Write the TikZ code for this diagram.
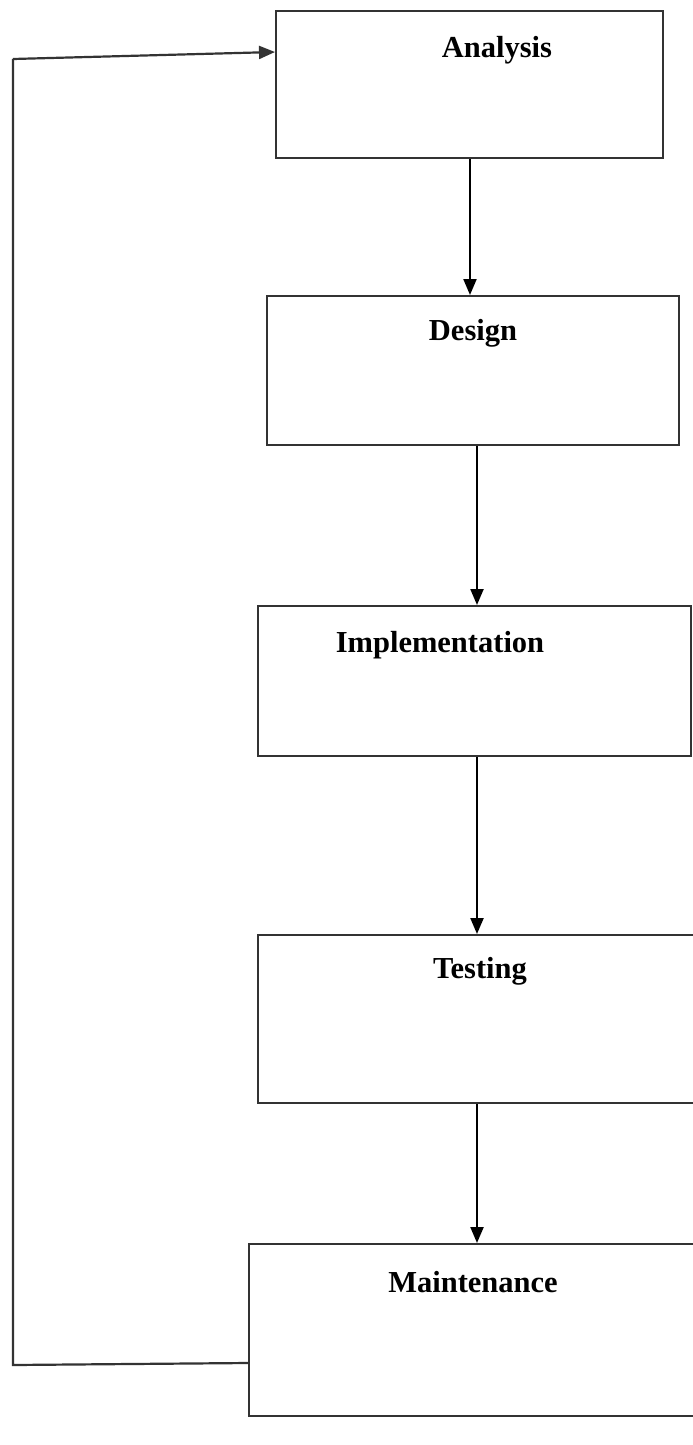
\documentclass[tikz,border=0pt]{standalone}
\usepackage{fontspec}
\setmainfont{Liberation Serif}
\usetikzlibrary{arrows.meta}
\tikzset{
  stage/.style={draw=black!80, line width=2.2pt, minimum width=#1, inner sep=0pt, anchor=north west},
  lbl/.style={font=\fontsize{30.5}{36}\selectfont\bfseries, inner sep=0pt, anchor=base},
  arr/.style={draw=black, line width=2.2pt, -{Triangle[length=16pt,width=13pt]}},
  fb/.style={draw=black!80, line width=2.2pt}
}
\begin{document}
\begin{tikzpicture}[x=1pt,y=-1pt]
\useasboundingbox (0,0) rectangle (693,1445);
% boxes
\node[stage=387pt, minimum height=147pt] (A) at (275,10) {};
\node[stage=412pt, minimum height=149pt] (D) at (266,295) {};
\node[stage=433pt, minimum height=150pt] (I) at (257,605) {};
\node[stage=440pt, minimum height=168pt] (T) at (257,934) {};
\node[stage=450pt, minimum height=172pt] (M) at (248,1243) {};
% labels
\node[lbl] (tA) at (497,58) {Analysis};
\node[lbl] (tD) at (473,340) {Design};
\node[lbl] (tI) at (440,652) {Implementation};
\node[lbl] (tT) at (480,978) {Testing};
\node[lbl] (tM) at (473,1292) {Maintenance};
% x positions of vertical arrows
\coordinate (x1) at (470,0);
\coordinate (x2) at (477,0);
\draw[arr] (A.south -| x1) -- (D.north -| x1);
\draw[arr] (D.south -| x2) -- (I.north -| x2);
\draw[arr] (I.south -| x2) -- (T.north -| x2);
\draw[arr] (T.south -| x2) -- (M.north -| x2);
% feedback loop
\coordinate (mOut) at (248,1363);
\coordinate (fb1) at (13,1365);
\coordinate (fb2) at (13,59);
\coordinate (aIn) at (275,52);
\draw[fb] (M.west |- mOut) -- (fb1) -- (fb2);
\draw[arr, draw=black!80] (fb2) -- (A.west |- aIn);
\end{tikzpicture}
\end{document}
